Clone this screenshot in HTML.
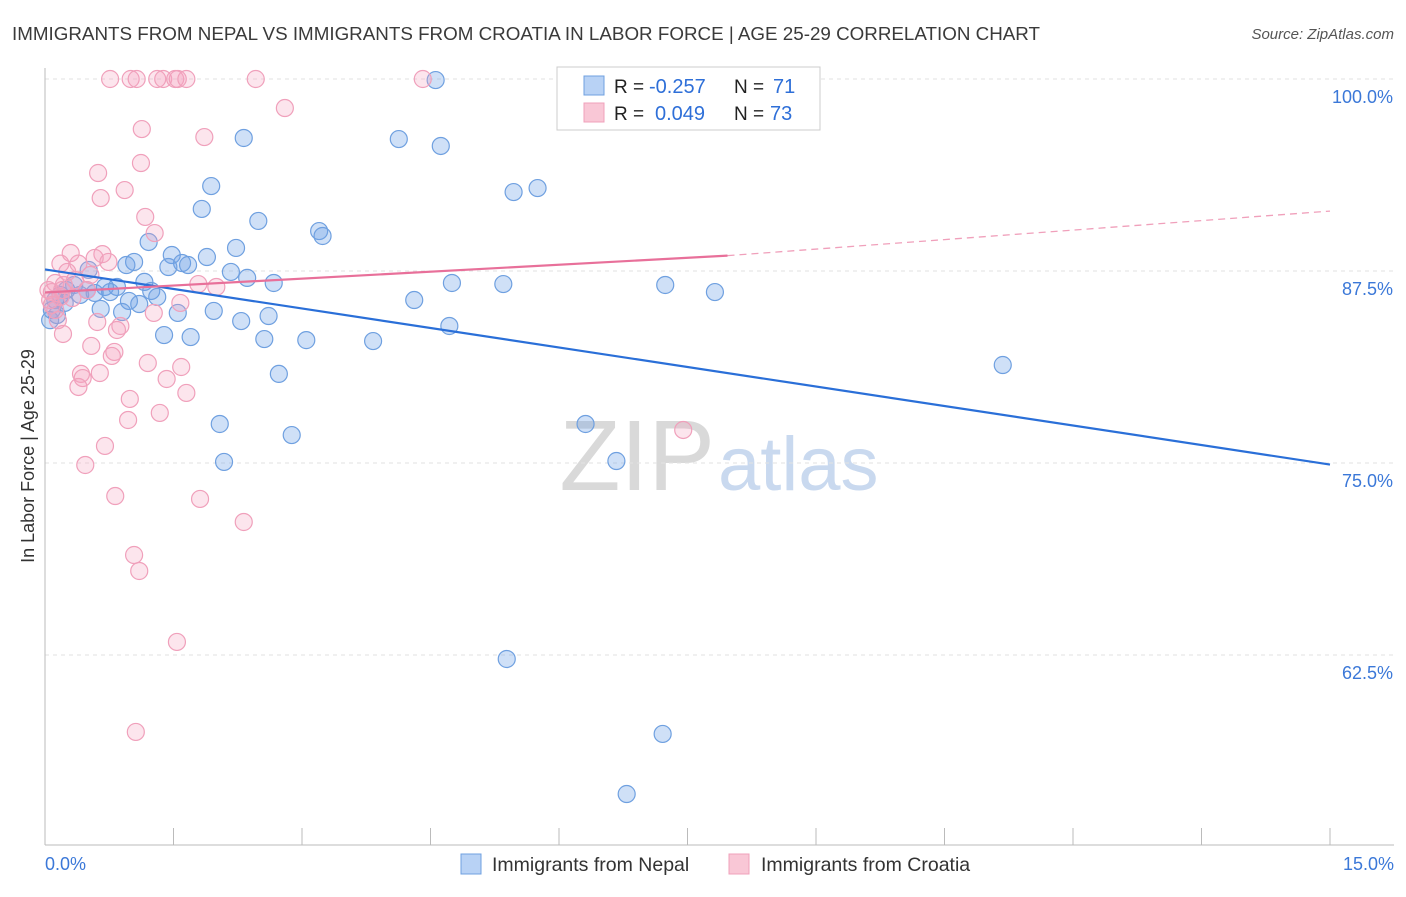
<!DOCTYPE html>
<html><head><meta charset="utf-8"><style>
body{margin:0;background:#fff;font-family:"Liberation Sans",sans-serif;}
svg text{font-family:"Liberation Sans",sans-serif;}
</style></head><body>
<svg width="1406" height="892" viewBox="0 0 1406 892" id="chart">
<text x="12" y="40" font-size="18.8" fill="#3a3a3a" textLength="1028" lengthAdjust="spacingAndGlyphs">IMMIGRANTS FROM NEPAL VS IMMIGRANTS FROM CROATIA IN LABOR FORCE | AGE 25-29 CORRELATION CHART</text>
<text x="1394" y="39" font-size="15" fill="#555" font-style="italic" text-anchor="end">Source: ZipAtlas.com</text>
<text x="715" y="490" font-size="100" fill="#d9d9d9" text-anchor="end" font-family="Liberation Serif">ZIP</text>
<text x="718" y="490" font-size="76" fill="#c9d9ef">atlas</text>
<text transform="translate(34,456) rotate(-90)" font-size="18" fill="#333" text-anchor="middle">In Labor Force | Age 25-29</text>
<g id="grid"></g><g id="marks"></g><g id="lines"></g>
<g>
<rect x="557" y="67" width="263" height="63" fill="#fff" stroke="#ccc"/>
<rect x="584" y="76" width="20" height="19" fill="#b8d2f5" stroke="#6fa0e0"/>
<rect x="584" y="103" width="20" height="19" fill="#f9c7d6" stroke="#f0a0bb"/>
<text x="614" y="93" font-size="19" fill="#222">R =</text>
<text x="649" y="93" font-size="20" fill="#2e6fd8">-0.257</text>
<text x="734" y="93" font-size="19" fill="#222">N =</text>
<text x="773" y="93" font-size="20" fill="#2e6fd8">71</text>
<text x="614" y="120" font-size="19" fill="#222">R =</text>
<text x="655" y="120" font-size="20" fill="#2e6fd8">0.049</text>
<text x="734" y="120" font-size="19" fill="#222">N =</text>
<text x="770" y="120" font-size="20" fill="#2e6fd8">73</text>
</g>
<g>
<rect x="461" y="854" width="20" height="20" fill="#b8d2f5" stroke="#6fa0e0"/>
<text x="492" y="871" font-size="19.5" fill="#333">Immigrants from Nepal</text>
<rect x="729" y="854" width="20" height="20" fill="#f9c7d6" stroke="#f0a0bb"/>
<text x="761" y="871" font-size="19.5" fill="#333">Immigrants from Croatia</text>
</g>
</svg>
<script>
const xTicks=[0,1.5,3,4.5,6,7.5,9,10.5,12,13.5,15];
const yTicks=[100,87.5,75,62.5];
const yTickLabels=["100.0%","87.5%","75.0%","62.5%"];
const nepalX=[4.56,6.20,2.32,4.13,4.62,5.47,5.75,1.94,1.83,2.49,3.20,3.24,1.21,2.23,1.48,1.89,1.60,1.67,1.44,1.04,0.95,0.51,2.17,2.36,2.67,1.16,0.84,0.70,0.49,0.76,1.24,1.31,0.98,1.10,0.65,0.90,1.55,1.97,2.29,2.61,4.72,4.31,4.75,5.35,7.24,7.82,1.39,1.70,2.56,3.05,3.83,2.73,2.04,2.88,2.09,6.31,6.67,11.18,5.39,7.21,6.79,0.08,0.12,0.06,0.18,0.25,0.34,0.41,0.58,0.23,0.14];
const nepalY=[99.93,100,96.16,96.09,95.64,92.64,92.90,93.03,91.54,90.76,90.10,89.78,89.39,89.0,88.54,88.41,88.02,87.89,87.76,88.09,87.89,87.57,87.44,87.05,86.72,86.79,86.46,86.46,86.26,86.13,86.2,85.81,85.55,85.35,85.03,84.83,84.77,84.9,84.24,84.57,83.92,85.61,86.72,86.65,86.59,86.13,83.33,83.2,83.07,83.0,82.94,80.8,77.54,76.82,75.07,77.54,75.13,81.38,62.24,57.36,53.45,84.96,85.61,84.3,85.94,86.26,86.59,85.94,86.07,85.42,84.63];
const croatiaX=[0.76,1.0,1.07,1.31,1.38,1.52,1.55,1.65,2.46,4.41,2.80,1.13,1.86,1.12,0.62,0.93,0.65,1.17,1.28,0.30,0.67,0.58,0.74,0.18,0.39,0.26,0.53,0.35,0.12,0.22,0.49,1.79,2.0,0.08,0.18,0.32,1.58,1.27,0.61,0.88,0.84,0.21,0.54,0.81,0.78,1.20,0.42,0.64,1.59,0.44,1.42,0.39,1.65,0.99,1.34,0.97,0.70,7.45,0.47,0.82,1.81,2.32,1.04,1.10,1.54,1.06,0.06,0.12,0.04,0.15,0.08,0.20];
const croatiaY=[100,100,100,100,100,100,100,100,100,100,98.11,96.74,96.22,94.53,93.88,92.77,92.25,91.02,89.97,88.67,88.6,88.35,88.09,87.98,87.98,87.44,87.24,86.91,86.72,86.59,86.26,86.65,86.46,86.13,85.81,85.74,85.42,84.77,84.18,83.92,83.66,83.4,82.62,82.23,81.97,81.51,80.8,80.86,81.25,80.53,80.47,79.95,79.56,79.17,78.26,77.8,76.11,77.15,74.87,72.85,72.66,71.16,69.01,67.97,63.35,57.49,85.61,84.96,86.26,84.3,85.29,86.26];
const nepalTrend=[87.6,74.9];
const croatiaTrend=[86.1,88.5,91.4];
const croatiaTrendX=[0,7.5,15];
const NS="http://www.w3.org/2000/svg";
const sx=v=>45+v*(1285/15);
const sy=v=>79+(100-v)*(192/12.5);
function mk(tag,attrs,parent){const e=document.createElementNS(NS,tag);for(const k in attrs)e.setAttribute(k,attrs[k]);parent.appendChild(e);return e;}
const grid=document.getElementById('grid'),marks=document.getElementById('marks'),lines=document.getElementById('lines');
yTicks.forEach((t,i)=>{
 const l=mk('line',{x1:45,x2:1394,y1:sy(t),y2:sy(t),stroke:'#e2e2e2','stroke-dasharray':'4,4'},grid);
 
 
 const tx=mk('text',{x:1393,y:sy(t)+24,'font-size':18,fill:'#3b78d8','text-anchor':'end'},grid);
 tx.textContent=yTickLabels[i];
 
 
});
const ax=mk('line',{x1:45,x2:45,y1:68,y2:845,stroke:'#bbb'},grid);


const bx=mk('line',{x1:45,x2:1394,y1:845,y2:845,stroke:'#bbb'},grid);


xTicks.forEach(t=>{const l=mk('line',{x1:sx(t),x2:sx(t),y1:828,y2:845,stroke:'#bbb'},grid);
 
 });
[[0,'0.0%','start',45],[15,'15.0%','end',1394]].forEach(a=>{const t=mk('text',{x:a[3],y:870,'font-size':18,fill:'#3b78d8','text-anchor':a[2]},grid);t.textContent=a[1];
 
 });
nepalX.forEach((x,i)=>{const c=mk('circle',{cx:sx(x),cy:sy(nepalY[i]),r:8.5,fill:'rgba(110,160,232,0.33)',stroke:'#6fa0e0','stroke-width':1.2},marks);
 
 });
croatiaX.forEach((x,i)=>{const c=mk('circle',{cx:sx(x),cy:sy(croatiaY[i]),r:8.5,fill:'rgba(245,160,190,0.28)',stroke:'#f0a0bb','stroke-width':1.2},marks);
 
 });
const bl=mk('line',{x1:sx(0),y1:sy(nepalTrend[0]),x2:sx(15),y2:sy(nepalTrend[1]),stroke:'#2a6fd8','stroke-width':2.2},lines);


const pl=mk('line',{x1:sx(croatiaTrendX[0]),y1:sy(croatiaTrend[0]),x2:sx(croatiaTrendX[1])+40,y2:sy(croatiaTrend[1]),stroke:'#e8709a','stroke-width':2.2},lines);


const pd=mk('line',{x1:sx(croatiaTrendX[1])+40,y1:sy(croatiaTrend[1]),x2:sx(croatiaTrendX[2]),y2:sy(croatiaTrend[2]),stroke:'#f0a0bb','stroke-width':1.3,'stroke-dasharray':'7,5'},lines);


</script>
</body></html>
